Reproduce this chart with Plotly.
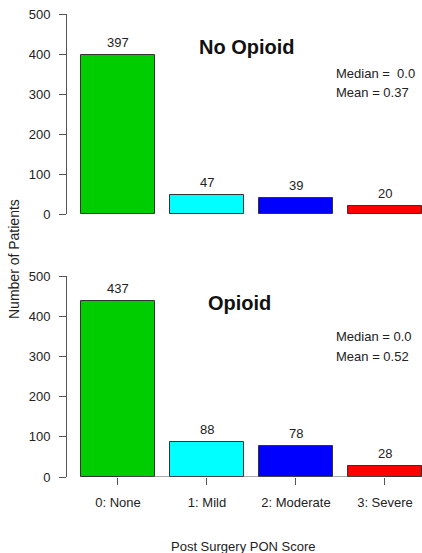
import plotly.graph_objects as go

categories = ["0: None", "1: Mild", "2: Moderate", "3: Severe"]
no_opioid = [397, 47, 39, 20]
opioid = [437, 88, 78, 28]
bar_colors = ["#00CD00", "#00FFFF", "#0000FF", "#FF0000"]
y_ticks = [0, 100, 200, 300, 400, 500]
panel_titles = ["No Opioid", "Opioid"]
stats_median = ["Median =  0.0", "Median = 0.0"]
stats_mean = ["Mean = 0.37", "Mean = 0.52"]

W, H = 422, 553
ML = 67
PW = W - ML
FONT = "Liberation Sans, Arial, sans-serif"
TXT = "#222222"
AX = "#555555"
pos = list(range(len(categories)))


def px_x(px):
    return (px - ML) / PW


def px_y(py):
    return (H - py) / H


fig = go.Figure()

panels = [(no_opioid, "x", "y"), (opioid, "x2", "y2")]
for vals, xa, ya in panels:
    fig.add_trace(go.Bar(
        x=pos, y=vals, xaxis=xa, yaxis=ya, width=0.83,
        marker=dict(color=bar_colors, line=dict(color="#333333", width=1)),
        showlegend=False, hoverinfo="skip"))

# baseline of the lower panel (from first to last category)
fig.add_trace(go.Scatter(x=[pos[0], pos[-1]], y=[0, 0], xaxis="x2", yaxis="y2",
                         mode="lines", line=dict(color=AX, width=1),
                         showlegend=False, hoverinfo="skip"))

# value labels
for vals, xa, ya in panels:
    for p, v in zip(pos, vals):
        fig.add_annotation(x=p, y=v, xref=xa, yref=ya, text=str(v), showarrow=False,
                           yanchor="bottom", yshift=3,
                           font=dict(family=FONT, size=13, color=TXT))

xrange = [-0.573, 3.416]
ydom_top = [px_y(214), px_y(14)]
ydom_bot = [px_y(477), px_y(276)]

yax = dict(range=[0, 500], tickvals=y_ticks, showline=True, linecolor=AX, linewidth=1,
           ticks="outside", ticklen=7, tickcolor=AX, showgrid=False, zeroline=False,
           automargin=False,
           tickfont=dict(family=FONT, size=13, color=TXT), ticklabelstandoff=6, fixedrange=True)

fig.update_layout(
    width=W, height=H, margin=dict(l=ML, r=0, t=0, b=0, pad=0),
    paper_bgcolor="white", plot_bgcolor="white", bargap=0,
    xaxis=dict(domain=[0, 1], range=xrange, anchor="y", showticklabels=False,
               showline=False, ticks="", showgrid=False, zeroline=False, automargin=False),
    yaxis=dict(domain=ydom_top, anchor="x", **yax),
    xaxis2=dict(domain=[0, 1], range=xrange, anchor="y2", tickvals=pos, ticktext=categories,
                ticks="outside", ticklen=7, tickcolor=AX, showline=False, showgrid=False,
                zeroline=False, automargin=False, tickfont=dict(family=FONT, size=13, color=TXT),
                ticklabelstandoff=6),
    yaxis2=dict(domain=ydom_bot, anchor="x2", **yax),
)

# panel titles
title_pos = [(247, 47), (239, 303)]
for t, (px, py) in zip(panel_titles, title_pos):
    fig.add_annotation(x=px_x(px), y=px_y(py), xref="paper", yref="paper", text="<b>%s</b>" % t,
                       showarrow=False, xanchor="center", yanchor="middle",
                       font=dict(family=FONT, size=20, color="#111111"))

# stats text
stat_pos = [(73, 92), (336, 356)]
for med, mean, (y1, y2) in zip(stats_median, stats_mean, stat_pos):
    for txt, yy in ((med, y1), (mean, y2)):
        fig.add_annotation(x=px_x(334), y=px_y(yy), xref="paper", yref="paper", text=txt,
                           showarrow=False, xanchor="left", yanchor="middle",
                           font=dict(family=FONT, size=13, color=TXT))

# axis titles
fig.add_annotation(x=px_x(243), y=px_y(546), xref="paper", yref="paper",
                   text="Post Surgery PON Score", showarrow=False,
                   xanchor="center", yanchor="middle",
                   font=dict(family=FONT, size=13, color=TXT))
fig.add_annotation(x=px_x(14), y=px_y(259), xref="paper", yref="paper",
                   text="Number of Patients", showarrow=False, textangle=-90,
                   xanchor="center", yanchor="middle",
                   font=dict(family=FONT, size=14, color=TXT))

fig.write_html("out.html", config={"displayModeBar": False},
               post_script="document.body.style.margin='0';document.body.style.overflow='hidden';")
